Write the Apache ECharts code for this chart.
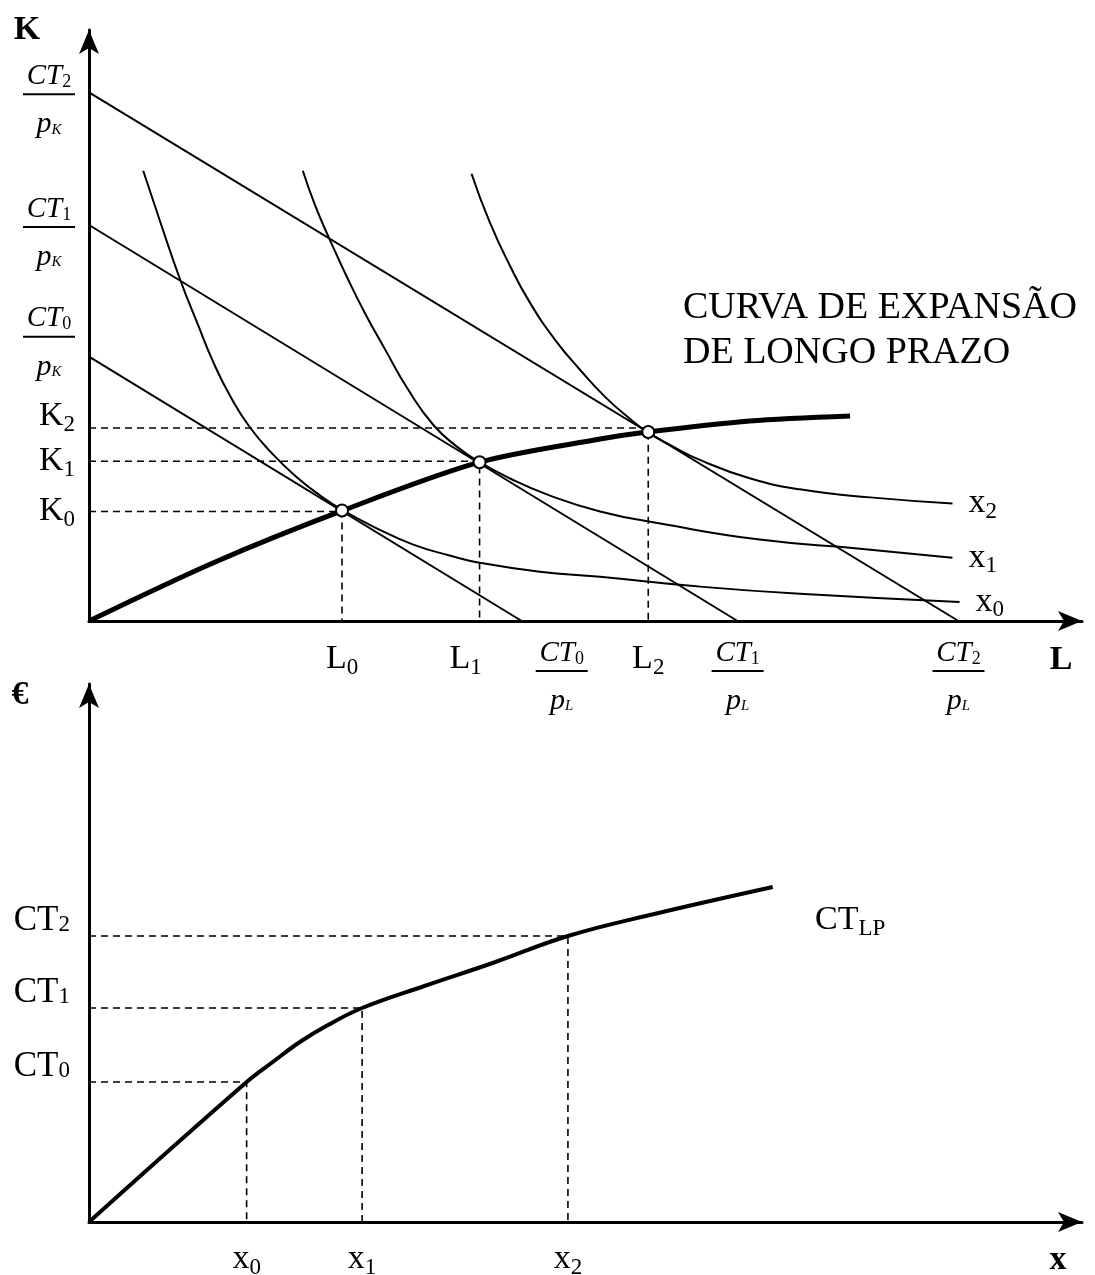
<!DOCTYPE html>
<html>
<head>
<meta charset="utf-8">
<title>Curva de expansão de longo prazo</title>
<script src="https://cdn.jsdelivr.net/npm/echarts@6/dist/echarts.min.js"></script>
<style>
  html, body { margin: 0; padding: 0; background: #fff; }
  #chart { width: 1095px; height: 1275px; }
</style>
</head>
<body>
<div id="chart"></div>
<script>
// painel de cima: L (horizontal) e K (vertical)
const kIntercepts = [26.3, 39.4, 52.6] // CT0/pK, CT1/pK, CT2/pK
const lIntercepts = [43.1, 64.6, 86.6] // CT0/pL, CT1/pL, CT2/pL
const lOptimal = [25.2, 38.9, 55.7] // L0, L1, L2
const kOptimal = [10.9, 15.9, 19.2] // K0, K1, K2
const kTangent = [11.0, 15.8, 18.8] // K nos pontos de tangência
const isoquant0 = [[5.4, 44.8], [7.1, 39.7], [9.1, 33.9], [10.8, 29.6], [12.4, 25.7], [14.1, 22.3], [16.0, 19.3], [18.3, 16.6], [20.7, 14.3], [23.0, 12.5], [25.3, 11.0], [28.5, 9.3], [32.3, 7.6], [36.0, 6.5], [38.9, 5.8], [44.9, 4.9], [50.9, 4.4], [59.9, 3.5], [70.8, 2.7], [86.7, 1.9]]
const isoquant1 = [[21.3, 44.8], [22.5, 41.4], [24.0, 37.9], [25.7, 34.2], [27.5, 30.6], [29.5, 27.0], [31.8, 23.0], [34.3, 19.5], [36.7, 17.3], [38.9, 15.8], [41.9, 14.2], [45.6, 12.6], [50.9, 10.9], [56.9, 9.7], [66.8, 8.1], [76.8, 7.2], [86.0, 6.3]]
const isoquant2 = [[38.1, 44.5], [39.9, 39.7], [41.9, 35.4], [43.9, 31.7], [46.4, 28.0], [48.9, 25.0], [51.4, 22.3], [53.9, 20.1], [55.6, 18.8], [57.9, 17.5], [60.9, 16.0], [65.8, 14.2], [70.8, 13.1], [77.8, 12.3], [86.0, 11.7]]
const expansionPath = [[0, 0], [12.4, 5.8], [25.3, 11.0], [38.9, 15.8], [50.9, 18.1], [55.6, 18.8], [65.8, 19.9], [75.8, 20.4]]

// painel de baixo: x (horizontal) e € (vertical)
const outputLevels = [15.7, 27.2, 47.7] // x0, x1, x2
const costLevels = [14.0, 21.4, 28.6] // CT0, CT1, CT2
const longRunCost = [[0, 0], [15.7, 14.0], [18.3, 16.0], [21.0, 18.0], [23.8, 19.7], [27.2, 21.4], [33.4, 23.6], [40.2, 25.9], [47.7, 28.6], [56.3, 30.8], [68.1, 33.5]]

// textos das etiquetas
const kLabels = ['{r|K}{rs|0}', '{r|K}{rs|1}', '{r|K}{rs|2}\n{vg|}']
const kFracLabels = [
  '{n|CT}{ns|0}\n{bar|}\n{d|p}{ds|K}\n{vgb|}',
  '{vgt|}\n{n|CT}{ns|1}\n{bar|}\n{d|p}{ds|K}',
  '{vgt|}\n{n|CT}{ns|2}\n{bar|}\n{d|p}{ds|K}'
]
const lLabels = ['{r|L}{rs|0}', '{r|L}{rs|1}{hg|}', '{r|L}{rs|2}']
const lFracLabels = [
  '{hg2|}{n|CT}{ns|0}\n{hg2|}{bar|}\n{hg2|}{d|p}{ds|L}',
  '{n|CT}{ns|1}\n{bar|}\n{d|p}{ds|L}',
  '{n|CT}{ns|2}\n{bar|}\n{d|p}{ds|L}'
]
const xLabels = ['{r|x}{rs|0}', '{r|x}{rs|1}', '{r|x}{rs|2}']
const costLabels = ['{r|CT}{rs|0}', '{r|CT}{rs|1}', '{r|CT}{rs|2}']
const isoLabels = ['{r|x}{rs|0}', '{r|x}{rs|1}', '{r|x}{rs|2}']

const serif = 'Liberation Serif, Times New Roman, serif'
const rich = {
  r: { fontFamily: serif, fontSize: 34, lineHeight: 40, color: '#000', align: 'center' },
  rs: { fontFamily: serif, fontSize: 23, lineHeight: 23, color: '#000', verticalAlign: 'bottom', align: 'center' },
  n: { fontFamily: serif, fontStyle: 'italic', fontSize: 29, lineHeight: 28, color: '#000', align: 'center' },
  ns: { fontFamily: serif, fontSize: 18, lineHeight: 14, color: '#000', verticalAlign: 'top', padding: [11, 0, 0, 0], align: 'center' },
  bar: { width: 52, height: 2, lineHeight: 8, backgroundColor: '#000', align: 'center' },
  d: { fontFamily: serif, fontStyle: 'italic', fontSize: 30, lineHeight: 52, color: '#000', align: 'center' },
  ds: { fontFamily: serif, fontStyle: 'italic', fontSize: 15, lineHeight: 20, color: '#000', verticalAlign: 'top', padding: [24, 0, 0, 0], align: 'center' },
  vg: { height: 24, lineHeight: 24 },
  vgt: { height: 28, lineHeight: 28 },
  vgb: { height: 16, lineHeight: 16 },
  hg: { width: 28, height: 1 },
  hg2: { width: 80, height: 1 }
}
// etiquetas CT do eixo de baixo assentam sobre a tracejada
const costRich = Object.assign({}, rich, {
  r: { fontFamily: serif, fontSize: 35, lineHeight: 30, color: '#000', align: 'center' },
  rs: { fontFamily: serif, fontSize: 23, lineHeight: 14, color: '#000', verticalAlign: 'bottom', align: 'center' }
})

function labelLookup (values, texts) {
  return function (v) {
    for (let i = 0; i < values.length; i++) {
      if (Math.abs(values[i] - v) < 1e-6) return texts[i]
    }
    return ''
  }
}

const axisLineStyle = {
  show: true,
  onZero: false,
  symbol: ['none', 'arrow'],
  symbolSize: [15, 24],
  lineStyle: { color: '#000', width: 3 }
}

const topYValues = kOptimal.concat(kIntercepts)
const topYTexts = kLabels.concat(kFracLabels)
const topXValues = lOptimal.concat(lIntercepts)
const topXTexts = lLabels.concat(lFracLabels)

const thin = { color: '#000', width: 2 }
const dashed = { color: '#000', width: 1.6, type: [7, 5] }

const series = []

// retas de isocusto
kIntercepts.forEach(function (k, i) {
  series.push({
    name: 'CT' + i, type: 'line', xAxisIndex: 0, yAxisIndex: 0,
    data: [[0, k], [lIntercepts[i], 0]],
    symbol: 'none', lineStyle: thin, silent: true
  })
})

// isoquantas
;[isoquant0, isoquant1, isoquant2].forEach(function (d, i) {
  series.push({
    name: 'x' + i, type: 'line', xAxisIndex: 0, yAxisIndex: 0,
    data: d, smooth: 0.5, symbol: 'none', lineStyle: thin, silent: true,
    endLabel: { show: true, formatter: isoLabels[i], rich: rich, distance: 16 }
  })
})

// guias tracejadas no painel de cima
lOptimal.forEach(function (l, i) {
  series.push({
    type: 'line', xAxisIndex: 0, yAxisIndex: 0,
    data: [[0, kOptimal[i]], [l, kOptimal[i]], [l, 0]],
    symbol: 'none', lineStyle: dashed, silent: true
  })
})

// curva de expansão
series.push({
  name: 'expansao', type: 'line', xAxisIndex: 0, yAxisIndex: 0,
  data: expansionPath, smooth: 0.3, symbol: 'none',
  lineStyle: { color: '#000', width: 5 }, z: 5, silent: true
})

// pontos de tangência
series.push({
  type: 'scatter', xAxisIndex: 0, yAxisIndex: 0,
  data: lOptimal.map(function (l, i) { return [l, kTangent[i]] }),
  symbolSize: 12,
  itemStyle: { color: '#fff', borderColor: '#000', borderWidth: 2, opacity: 1 },
  z: 10, silent: true
})

// painel de baixo
outputLevels.forEach(function (x, i) {
  series.push({
    type: 'line', xAxisIndex: 1, yAxisIndex: 1,
    data: [[0, costLevels[i]], [x, costLevels[i]], [x, 0]],
    symbol: 'none', lineStyle: dashed, silent: true
  })
})
series.push({
  name: 'CTLP', type: 'line', xAxisIndex: 1, yAxisIndex: 1,
  data: longRunCost, smooth: 0.4, symbol: 'none',
  lineStyle: { color: '#000', width: 4 }, z: 5, silent: true
})

const option = {
  backgroundColor: '#fff',
  animation: false,
  grid: [
    { left: 89, top: 30, width: 993, height: 591, outerBoundsMode: 'none', containLabel: false },
    { left: 89, top: 684, width: 993, height: 538, outerBoundsMode: 'none', containLabel: false }
  ],
  xAxis: [
    {
      type: 'value', gridIndex: 0, min: 0, max: 98.9,
      axisLine: axisLineStyle,
      axisTick: { show: false },
      splitLine: { show: false },
      axisLabel: {
        customValues: topXValues,
        formatter: labelLookup(topXValues, topXTexts),
        rich: rich, margin: 18, verticalAlign: 'top', hideOverlap: false
      }
    },
    {
      type: 'value', gridIndex: 1, min: 0, max: 98.9,
      axisLine: axisLineStyle,
      axisTick: { show: false },
      splitLine: { show: false },
      axisLabel: {
        customValues: outputLevels,
        formatter: labelLookup(outputLevels, xLabels),
        rich: rich, margin: 17, verticalAlign: 'top', hideOverlap: false
      }
    }
  ],
  yAxis: [
    {
      type: 'value', gridIndex: 0, min: 0, max: 58.8,
      axisLine: axisLineStyle,
      axisTick: { show: false },
      splitLine: { show: false },
      axisLabel: {
        customValues: topYValues,
        formatter: labelLookup(topYValues, topYTexts),
        rich: rich, margin: 14, hideOverlap: false
      }
    },
    {
      type: 'value', gridIndex: 1, min: 0, max: 53.8,
      axisLine: axisLineStyle,
      axisTick: { show: false },
      splitLine: { show: false },
      axisLabel: {
        customValues: costLevels,
        formatter: labelLookup(costLevels, costLabels),
        rich: costRich, margin: 19, verticalAlign: 'bottom', hideOverlap: false
      }
    }
  ],
  graphic: [
    { type: 'text', x: 27, y: 30, style: { text: 'K', font: 'bold 34px ' + serif, fill: '#000', textAlign: 'center', textVerticalAlign: 'middle', align: 'center', verticalAlign: 'middle' } },
    { type: 'text', x: 1061, y: 660, style: { text: 'L', font: 'bold 34px ' + serif, fill: '#000', textAlign: 'center', textVerticalAlign: 'middle', align: 'center', verticalAlign: 'middle' } },
    { type: 'text', x: 20, y: 695, style: { text: '€', font: 'bold 34px ' + serif, fill: '#000', textAlign: 'center', textVerticalAlign: 'middle', align: 'center', verticalAlign: 'middle' } },
    { type: 'text', x: 1058, y: 1260, style: { text: 'x', font: 'bold 34px ' + serif, fill: '#000', textAlign: 'center', textVerticalAlign: 'middle', align: 'center', verticalAlign: 'middle' } },
    { type: 'text', x: 683, y: 286, style: { text: 'CURVA DE EXPANSÃO\nDE LONGO PRAZO', font: '38px ' + serif, lineHeight: 45, fill: '#000', textAlign: 'left', textVerticalAlign: 'top', align: 'left', verticalAlign: 'top' } },
    { type: 'text', x: 815, y: 920, style: { text: '{r|CT}{rs|LP}', rich: rich, textAlign: 'left', textVerticalAlign: 'middle', align: 'left', verticalAlign: 'middle' } }
  ],
  series: series
}

const chart = echarts.init(document.getElementById('chart'))
chart.setOption(option)
</script>
</body>
</html>
